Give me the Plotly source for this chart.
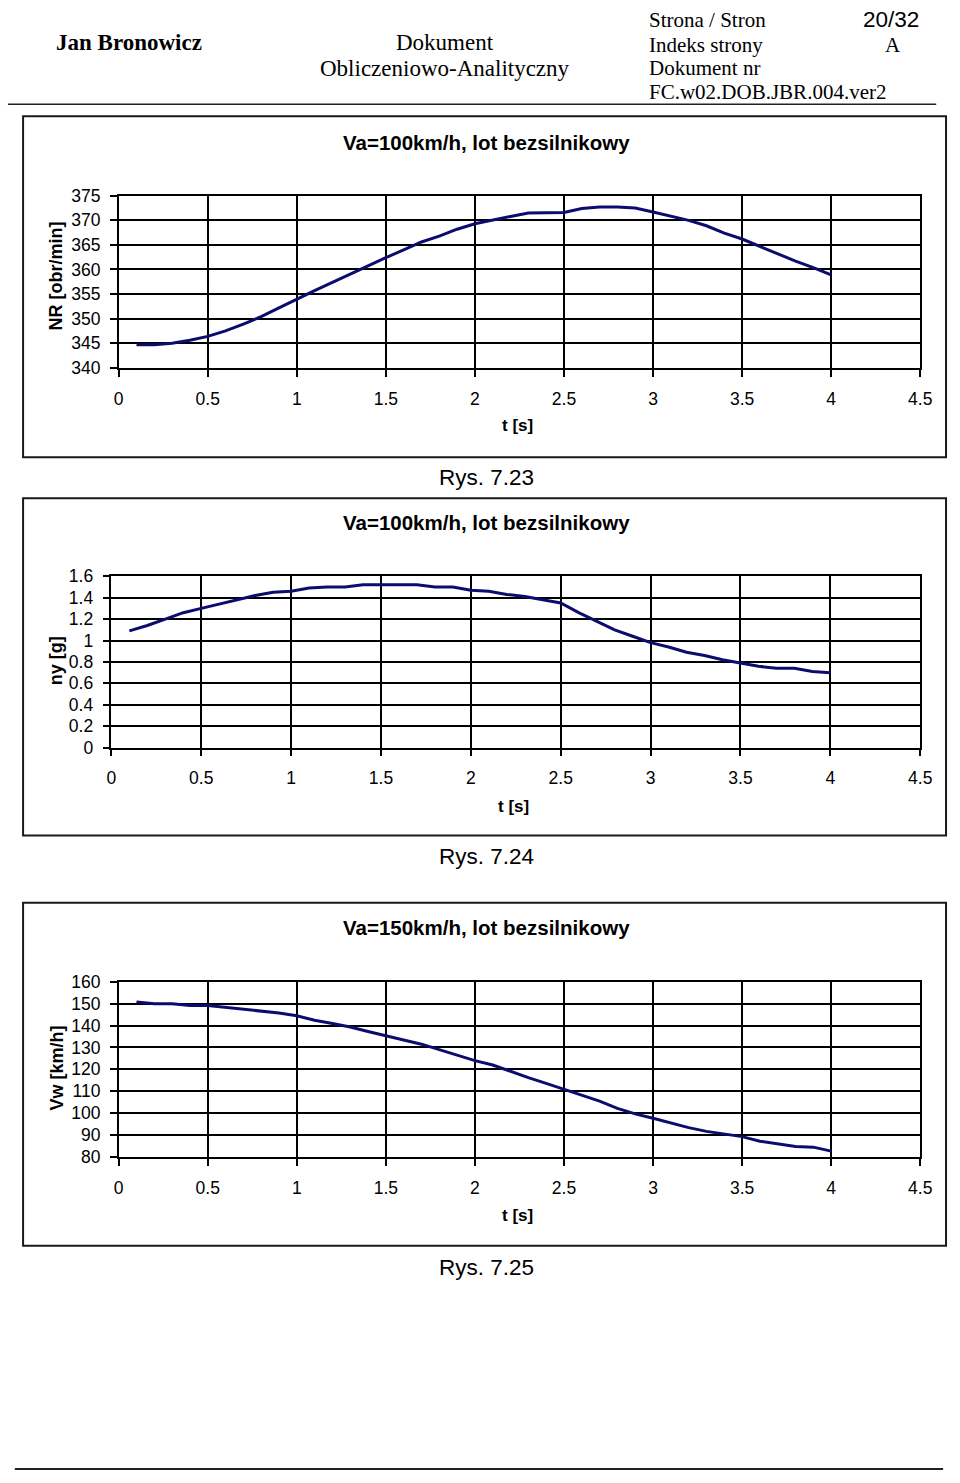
import plotly.graph_objects as go

W, H = 960, 1483

# ---- data ----
t = [0.1, 0.2, 0.3, 0.4, 0.5, 0.6, 0.7, 0.8, 0.9, 1.0,
     1.1, 1.2, 1.3, 1.4, 1.5, 1.6, 1.7, 1.8, 1.9, 2.0,
     2.1, 2.2, 2.3, 2.4, 2.5, 2.6, 2.7, 2.8, 2.9, 3.0,
     3.1, 3.2, 3.3, 3.4, 3.5, 3.6, 3.7, 3.8, 3.9, 4.0]

nr_obr_min = [344.7, 344.7, 345.0, 345.6, 346.4, 347.5, 348.9, 350.4, 352.2, 354.0,
              355.7, 357.4, 359.1, 360.8, 362.4, 364.0, 365.6, 366.8, 368.2, 369.3,
              370.1, 370.8, 371.5, 371.5, 371.6, 372.4, 372.7, 372.7, 372.5, 371.7,
              370.9, 370.0, 368.9, 367.4, 366.2, 364.7, 363.2, 361.7, 360.4, 358.9]

ny_g = [1.09, 1.14, 1.20, 1.26, 1.30, 1.34, 1.38, 1.42, 1.45, 1.46,
        1.49, 1.50, 1.50, 1.52, 1.52, 1.52, 1.52, 1.50, 1.50, 1.47,
        1.46, 1.43, 1.41, 1.38, 1.35, 1.26, 1.18, 1.10, 1.04, 0.98,
        0.94, 0.89, 0.86, 0.82, 0.79, 0.76, 0.74, 0.74, 0.71, 0.70]

vw_kmh = [150.8, 149.9, 149.9, 149.2, 149.2, 148.4, 147.5, 146.8, 145.7, 144.5,
          142.4, 140.9, 139.3, 137.3, 135.2, 133.4, 131.5, 128.9, 126.5, 124.0,
          122.0, 119.0, 116.2, 113.6, 110.8, 108.1, 105.5, 102.2, 99.7, 97.7,
          95.6, 93.4, 91.7, 90.5, 89.3, 87.2, 86.0, 84.8, 84.5, 82.7]

x_ticks = [0, 0.5, 1, 1.5, 2, 2.5, 3, 3.5, 4, 4.5]
x_ticktext = ["0", "0.5", "1", "1.5", "2", "2.5", "3", "3.5", "4", "4.5"]
nr_ticks = [340, 345, 350, 355, 360, 365, 370, 375]
ny_ticks = [0, 0.2, 0.4, 0.6, 0.8, 1, 1.2, 1.4, 1.6]
ny_ticktext = ["0", "0.2", "0.4", "0.6", "0.8", "1", "1.2", "1.4", "1.6"]
vw_ticks = [80, 90, 100, 110, 120, 130, 140, 150, 160]

chart_titles = ["Va=100km/h, lot bezsilnikowy", "Va=100km/h, lot bezsilnikowy",
                "Va=150km/h, lot bezsilnikowy"]
y_titles = ["NR [obr/min]", "ny [g]", "Vw [km/h]"]
captions = ["Rys. 7.23", "Rys. 7.24", "Rys. 7.25"]


def fx(px):
    return px / W


def fy(py):
    return 1 - py / H


SANS = "Liberation Sans, Arial, sans-serif"
SERIF = "Liberation Serif, Times New Roman, serif"
LINE_COLOR = "#0c0c6e"

fig = go.Figure()

# plot-area geometry (pixels): x0, x1, ytop, ybottom
areas = [
    (115.7, 931.7, 188.3, 362.7),
    (108.3, 931.7, 574.0, 747.7),
    (115.7, 931.7, 985.0, 1162.7),
]
series = [nr_obr_min, ny_g, vw_kmh]
yticks = [(nr_ticks, [str(v) for v in nr_ticks]), (ny_ticks, ny_ticktext),
          (vw_ticks, [str(v) for v in vw_ticks])]
yranges = [[340, 375], [0, 1.6], [80, 160]]

for i in range(3):
    n = "" if i == 0 else str(i + 1)
    x0, x1, yt, yb = areas[i]
    fig.add_trace(go.Scatter(x=t, y=series[i], mode="lines",
                             line=dict(color=LINE_COLOR, width=3),
                             xaxis="x" + n, yaxis="y" + n,
                             showlegend=False, hoverinfo="skip"))
    common = dict(showgrid=True, gridcolor="black", gridwidth=1.5,
                  showline=True, linecolor="black", linewidth=1.5, mirror=True,
                  ticks="outside", ticklen=7, tickwidth=1.5, tickcolor="black",
                  zeroline=False, fixedrange=True,
                  tickfont=dict(family=SANS, size=17.5, color="black"))
    fig.update_layout(**{
        "xaxis" + n: dict(domain=[fx(x0), fx(x1)], range=[0, 4.5],
                          anchor="y" + n, tickvals=x_ticks, ticktext=x_ticktext,
                          ticklabelstandoff=7, **common),
        "yaxis" + n: dict(domain=[fy(yb), fy(yt)], range=yranges[i],
                          anchor="x" + n, tickvals=yticks[i][0],
                          ticktext=yticks[i][1], ticklabelstandoff=6, **common),
    })

# boxes
boxes = [(18.4, 107.7, 958, 453.3), (18.4, 495, 958, 836.7), (18.4, 905, 958, 1252.7)]
shapes = []
for (bx0, by0, bx1, by1) in boxes:
    shapes.append(dict(type="rect", xref="paper", yref="paper",
                       x0=fx(bx0), x1=fx(bx1), y0=fy(by1), y1=fy(by0),
                       line=dict(color="#1a1a1a", width=2), layer="below"))
# header line and footer line
shapes.append(dict(type="line", xref="paper", yref="paper", x0=fx(3), x1=fx(948),
                   y0=fy(95.5), y1=fy(95.5), line=dict(color="#222", width=1.5)))
shapes.append(dict(type="line", xref="paper", yref="paper", x0=fx(10), x1=fx(955),
                   y0=fy(1479), y1=fy(1479), line=dict(color="#222", width=2)))

ann = []


def text(s, px, py, size, family=SANS, bold=False, xanchor="center", angle=0):
    ann.append(dict(text=("<b>%s</b>" % s) if bold else s, x=fx(px), y=fy(py),
                    xref="paper", yref="paper", xanchor=xanchor, yanchor="middle",
                    showarrow=False, textangle=angle,
                    font=dict(family=family, size=size, color="black")))


# header
text("Jan Bronowicz", 50, 33, 23, SERIF, True, "left")
text("Dokument", 448, 33, 23, SERIF)
text("Obliczeniowo-Analityczny", 448, 59, 23, SERIF)
text("Strona / Stron", 654, 10, 21, SERIF, False, "left")
text("Indeks strony", 654, 35, 21, SERIF, False, "left")
text("Dokument nr", 654, 59, 21, SERIF, False, "left")
text("FC.w02.DOB.JBR.004.ver2", 654, 83, 21, SERIF, False, "left")
text("20/32", 902, 10, 22.5, SANS)
text("A", 904, 35, 21, SERIF)

# chart texts
title_y = [134, 520, 930]
xt = [(522, 421), (518, 807), (522, 1222)]
yt_pos = [(52, 270), (52, 660), (52, 1073)]
cap_y = [474, 858, 1275]
for i in range(3):
    text(chart_titles[i], 490, title_y[i], 20.5, SANS, True)
    text("t [s]", xt[i][0], xt[i][1], 17, SANS, True)
    text(y_titles[i], yt_pos[i][0], yt_pos[i][1], 18, SANS, True, angle=-90)
    text(captions[i], 490, cap_y[i], 22.5, SANS)

fig.update_layout(width=W, height=H, autosize=False,
                  margin=dict(l=0, r=0, t=0, b=0, pad=0),
                  paper_bgcolor="white", plot_bgcolor="white",
                  shapes=shapes, annotations=ann, showlegend=False)

fig.write_html("out.html", config={"displayModeBar": False},
               post_script="document.body.style.margin='0';")
